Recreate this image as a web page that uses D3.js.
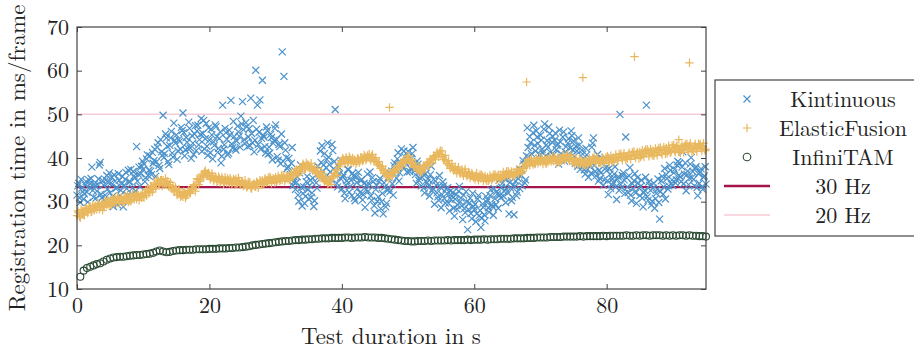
<!DOCTYPE html>
<html><head><meta charset="utf-8">
<script src="https://cdn.jsdelivr.net/npm/d3@7"></script>
<style>html,body{margin:0;padding:0;background:#fff;} svg{display:block;}</style>
</head><body>
<svg id="chart" width="914" height="351"></svg>
<script>
// ---- data ----
const xTicks = [0, 20, 40, 60, 80];
const yTicks = [10, 20, 30, 40, 50, 60, 70];
const seriesNames = ["Kintinuous", "ElasticFusion", "InfiniTAM", "30 Hz", "20 Hz"];
const hz30 = 1000 / 30;
const hz20 = 1000 / 20;

// Kintinuous: even samples every 0.25 s from 0 s (4 per group = 1 s)
const kinStep = 0.25;
const kintinuous = [
31.5,34.2,29.8,33.1, 30.6,33.8,32.2,35.0, 34.1,37.9,31.0,33.6, 32.4,35.2,39.0,30.9,
33.8,31.5,36.0,34.4, 32.0,35.6,28.9,34.7, 33.3,36.4,31.4,34.0, 28.8,35.1,33.0,37.2,
34.6,31.8,36.9,35.4, 42.6,36.3,33.5,38.1, 37.4,34.6,39.8,36.0, 40.5,36.2,38.8,42.0,
39.1,43.5,37.6,41.4, 49.8,41.0,44.6,39.2, 42.9,46.1,40.2,44.0, 45.3,41.6,43.8,47.0,
50.3,40.5,44.7,42.2, 46.8,39.9,43.4,45.5, 41.7,47.5,44.2,49.0, 45.6,42.1,47.9,40.6,
44.1,46.6,39.8,42.9, 47.2,41.3,44.5,38.9, 52.1,43.0,45.8,40.7, 46.4,53.2,42.3,44.9,
41.8,47.3,45.0,49.6, 52.9,44.2,48.1,42.6, 46.7,53.7,43.5,41.4, 60.1,52.1,45.9,42.0,
57.8,44.8,41.2,46.3, 42.5,45.4,39.6,44.0, 47.6,40.3,43.1,38.7, 64.3,58.7,41.8,37.6,
39.9,36.2,42.4,34.5, 32.8,35.7,30.1,38.4, 29.0,33.4,31.2,35.8, 30.6,34.9,32.0,28.9,
37.3,33.1,36.5,41.6, 42.8,38.4,35.6,39.7, 40.2,36.8,43.1,37.5, 51.1,34.2,38.0,35.4,
32.9,36.1,30.7,34.8, 37.3,33.5,31.4,35.9, 30.2,34.4,36.7,32.1, 35.1,31.6,28.7,33.9,
32.4,36.8,30.3,34.6, 27.4,33.7,31.1,35.3, 30.0,27.2,33.4,29.6, 35.6,32.3,37.0,31.5,
38.9,35.4,41.2,36.6, 42.1,37.7,40.3,39.4, 41.5,36.9,39.9,42.4, 37.1,34.2,38.6,35.5,
33.6,36.8,32.0,37.9, 35.2,31.3,38.1,33.0, 29.4,33.8,31.1,36.0, 28.6,34.5,30.7,32.9,
33.2,27.9,30.5,32.1, 26.7,31.6,29.2,33.5, 30.8,25.9,28.4,32.3, 23.6,29.7,27.3,31.9,
28.2,25.4,30.6,26.8, 24.1,29.5,27.0,31.2, 30.4,27.6,32.7,28.9, 33.0,29.3,31.8,34.9,
30.9,34.2,32.4,29.8, 35.6,27.2,33.1,31.0, 27.0,34.7,32.2,36.1, 37.3,33.6,38.6,35.0,
46.9,40.2,43.5,38.7, 47.5,41.6,44.8,39.9, 45.2,42.0,46.6,40.5, 44.0,47.1,41.3,43.6,
40.8,45.7,42.9,38.6, 43.7,40.1,46.0,41.4, 39.5,44.4,42.3,45.1, 43.9,38.8,41.6,44.6,
37.4,41.8,39.9,36.3, 40.7,35.6,38.2,42.5, 44.6,36.9,39.8,34.7, 35.3,38.9,33.8,40.1,
37.1,31.6,36.3,33.9, 34.4,38.0,30.5,35.7, 50.0,33.2,36.6,31.9, 35.5,32.1,37.8,30.2,
33.0,36.4,29.6,34.3, 31.4,34.9,28.8,32.6, 52.1,30.3,33.7,29.2, 33.1,28.5,31.9,35.2,
26.0,34.8,31.7,37.6, 36.2,32.9,38.3,34.1, 33.7,37.4,35.0,39.2, 38.8,34.6,41.4,36.3,
32.5,37.0,35.4,40.1, 36.9,33.6,38.0,31.4, 34.2,37.5,32.8,35.9, 34.0
];
// Kintinuous: odd samples every 0.25 s from 0.125 s
const kintinuousOdd = [
33.6,30.9,35.1,32.3, 31.8,34.6,29.9,33.2, 35.3,32.6,34.0,30.8, 33.9,38.4,31.7,34.8,
30.4,35.0,32.9,36.6, 34.3,31.2,36.1,33.0, 29.3,34.9,32.6,35.8, 33.8,36.7,31.5,34.5,
37.4,33.1,35.9,32.4, 34.7,37.9,36.4,39.3, 38.6,35.5,40.7,37.2, 37.0,41.3,39.4,35.8,
42.5,38.3,44.2,40.6, 40.1,45.5,42.7,38.5, 44.6,41.1,48.0,43.4, 39.7,44.2,42.0,46.3,
45.8,41.9,43.6,48.2, 42.3,45.1,40.8,47.4, 46.2,43.0,45.4,41.5, 48.6,44.4,42.7,46.9,
41.2,45.3,43.7,47.6, 44.9,42.2,46.0,40.4, 42.0,46.8,44.3,41.1, 45.3,43.2,48.4,42.1,
43.9,46.0,42.5,47.8, 46.5,43.3,47.2,44.8, 42.8,45.6,48.6,44.1, 46.6,43.1,53.3,44.5,
45.2,42.6,47.1,40.9, 41.1,44.7,43.4,46.8, 44.2,39.5,42.6,45.5, 39.3,43.5,40.1,38.0,
35.4,38.8,33.7,37.1, 34.4,31.5,36.6,33.3, 31.9,29.6,34.6,32.7, 33.7,31.0,35.4,30.2,
34.3,38.1,35.8,39.0, 36.9,41.0,37.8,43.4, 38.5,35.1,41.7,39.2, 37.0,33.4,36.4,39.5,
35.6,31.9,33.8,37.4, 32.2,34.9,36.5,30.8, 35.6,33.0,31.2,34.8, 30.4,34.2,32.7,36.3,
34.0,31.3,35.5,29.1, 32.8,30.1,34.6,28.4, 31.9,34.3,28.8,32.6, 33.0,36.4,34.1,38.2,
37.1,39.8,34.7,38.6, 38.3,41.6,39.0,36.8, 40.2,37.6,41.0,38.1, 36.2,39.3,34.9,37.0,
35.6,33.1,36.4,34.4, 33.7,36.2,32.5,35.1, 34.7,32.0,30.3,33.3, 31.6,33.6,29.7,31.9,
29.6,32.4,31.3,28.5, 30.6,28.3,32.4,30.0, 29.1,31.5,27.5,29.9, 28.2,30.8,26.1,28.9,
29.4,27.2,31.4,28.0, 26.2,28.7,25.6,29.9, 28.6,31.4,29.3,26.9, 30.7,32.3,28.5,31.5,
33.3,31.3,35.2,32.9, 32.0,34.4,30.2,33.8, 33.5,31.4,35.3,33.0, 36.0,39.4,34.3,40.5,
42.4,44.9,41.0,45.8, 42.9,46.2,43.3,40.8, 44.1,41.2,47.8,43.0, 42.5,45.6,40.2,44.9,
44.1,41.9,43.2,46.4, 41.0,44.8,39.3,42.6, 43.4,40.7,46.2,41.9, 40.3,42.7,38.1,43.0,
38.6,40.9,37.3,42.2, 37.4,39.3,36.5,43.4, 38.3,35.9,40.8,37.2, 36.6,39.7,35.0,37.8,
34.8,37.6,33.0,35.2, 36.3,33.4,35.1,32.6, 33.9,36.0,35.0,44.8, 33.4,35.9,31.5,34.1,
34.8,32.0,35.5,33.1, 33.5,30.8,32.1,35.6, 31.1,34.5,32.6,30.1, 34.2,30.7,32.8,29.8,
32.3,35.8,33.4,30.6, 35.3,33.6,37.2,35.0, 36.6,34.3,38.4,36.0, 35.7,37.9,34.1,38.9,
36.2,33.9,38.6,35.5, 35.1,37.7,33.2,36.4, 36.8,33.4,35.6,38.0
];

// ElasticFusion: even samples every 0.25 s from 0 s
const efStep = 0.25;
const elasticFusion = [
26.8,27.5,26.3,27.9, 27.2,28.4,27.7,28.1, 28.9,27.8,28.5,29.0, 28.2,29.4,28.7,29.6,
29.0,30.1,29.3,29.8, 30.4,29.2,30.0,30.6, 29.7,30.8,30.3,31.0, 30.1,31.2,30.6,29.9,
31.3,30.4,31.0,31.6, 30.6,31.5,31.1,30.9, 31.2,32.0,31.4,32.3, 32.5,33.4,32.8,33.9,
34.0,34.8,34.1,35.0, 34.9,34.2,33.8,34.6, 33.9,33.0,33.6,32.7, 32.6,31.7,32.2,31.4,
31.1,31.9,31.3,32.0, 32.2,33.1,32.8,33.6, 34.0,35.1,34.6,35.7, 36.0,36.8,36.2,35.9,
36.1,35.4,35.9,35.2, 35.5,34.8,35.3,34.9, 35.1,34.5,34.7,35.3, 34.2,35.0,34.4,34.9,
35.2,34.3,34.8,34.1, 34.6,33.8,34.0,33.5, 33.9,33.1,33.7,34.2, 33.4,34.3,34.0,34.6,
34.9,34.2,35.0,34.6, 34.5,35.3,34.9,35.1, 35.6,34.9,35.4,35.0, 35.0,35.8,35.2,35.7,
35.9,35.3,36.1,36.4, 36.8,37.2,36.6,37.5, 37.9,38.3,37.6,38.5, 38.4,37.9,37.5,37.3,
37.1,36.5,36.2,35.8, 35.9,35.2,34.9,34.6, 34.3,34.9,35.4,35.9, 36.4,37.2,38.0,38.6,
39.1,39.6,39.3,39.8, 39.2,39.9,39.4,39.0, 39.5,39.1,39.7,39.4, 40.1,39.6,40.3,39.9,
40.2,39.8,40.4,39.9, 39.6,39.0,38.6,38.2, 37.7,37.1,36.6,36.2, 35.9,36.1,36.5,36.9,
37.2,37.6,38.0,38.3, 38.7,39.1,39.4,39.8, 39.9,39.4,38.9,38.6, 38.2,37.8,37.4,37.1,
37.3,37.7,38.1,38.4, 38.8,39.2,39.5,39.9, 40.3,40.6,40.9,41.2, 40.8,40.2,39.7,39.3,
38.7,38.3,38.0,37.7, 37.4,37.1,37.3,36.9, 36.8,36.5,36.9,36.4, 36.1,36.5,35.9,36.2,
35.6,36.0,35.5,35.7, 35.3,35.8,35.4,35.2, 35.6,35.1,35.5,35.3, 35.4,35.9,35.7,35.5,
36.2,35.8,36.1,36.3, 36.0,36.6,36.4,36.1, 36.8,36.5,36.9,36.7, 37.2,36.9,37.6,38.3,
38.8,39.3,39.1,38.9, 39.4,39.0,39.5,39.2, 39.1,39.6,39.3,39.0, 39.8,39.4,39.9,39.5,
39.3,39.7,39.6,39.2, 40.0,39.7,40.2,39.8, 40.2,39.9,40.1,39.6, 39.4,39.0,39.2,38.8,
38.7,39.1,38.9,38.6, 39.3,39.0,39.4,39.1, 39.6,39.3,39.8,39.4, 39.2,39.6,39.3,39.5,
39.8,39.5,39.9,39.7, 40.1,39.8,40.2,40.0, 40.4,40.1,40.5,40.2, 40.3,40.7,40.5,40.6,
40.8,40.5,40.9,40.7, 41.4,40.6,41.0,41.5, 41.0,41.6,40.9,41.4, 41.7,41.1,41.3,41.9,
41.7,41.2,41.9,41.8, 42.3,41.6,42.1,41.5, 42.4,41.7,42.6,42.0, 41.6,42.5,42.1,42.7,
42.6,41.9,42.8,42.3, 42.0,42.7,42.1,42.5, 42.8,42.2,42.6,42.0, 42.0
];
// ElasticFusion: odd samples every 0.25 s from 0.125 s
const elasticFusionOdd = [
27.9,26.6,28.2,27.1, 26.9,28.6,27.4,28.9, 27.6,29.2,28.0,28.8, 29.7,28.3,29.1,28.0,
28.7,29.9,30.4,29.0, 29.3,30.9,29.6,30.3, 31.2,29.6,30.7,29.9, 29.6,30.9,31.5,30.2,
30.1,31.8,30.5,31.2, 31.9,30.3,31.4,31.8, 30.9,32.5,32.9,32.0, 33.6,32.2,34.3,33.2,
35.2,33.7,34.9,33.6, 33.9,35.3,34.7,33.4, 34.4,32.9,32.4,33.3, 31.5,32.9,31.1,32.0,
32.3,30.8,31.6,32.6, 31.9,32.9,33.9,32.4, 35.3,33.9,35.0,36.3, 35.6,37.1,36.5,36.6,
35.1,36.5,34.8,35.7, 34.5,35.8,34.4,35.6, 34.1,35.6,34.3,34.9, 35.4,33.9,35.2,34.0,
34.0,35.5,33.8,34.6, 33.6,34.9,33.3,34.5, 34.5,33.0,34.0,33.4, 34.6,33.2,34.9,33.9,
33.9,35.3,34.4,35.5, 35.7,34.2,35.4,34.4, 34.6,35.9,34.8,36.0, 36.1,34.7,35.9,35.1,
35.0,36.6,35.7,36.9, 37.4,36.1,37.9,36.9, 38.7,37.3,38.9,37.9, 37.7,38.8,37.0,38.0,
36.6,37.6,35.6,36.9, 36.4,34.6,35.6,34.1, 34.9,33.9,35.8,36.5, 37.3,36.0,38.7,39.4,
40.0,38.7,40.2,38.9, 40.3,38.8,40.0,39.6, 38.6,40.0,38.9,40.2, 39.3,40.7,39.5,40.6,
40.9,39.4,40.8,39.3, 40.1,38.4,39.2,37.6, 38.1,36.5,37.3,35.6, 35.2,36.6,35.8,37.4,
36.6,38.2,37.5,39.0, 38.0,39.6,38.9,40.4, 40.5,38.8,39.6,37.8, 38.8,37.2,38.0,36.6,
36.8,38.3,37.6,39.0, 38.2,39.8,38.9,40.5, 39.6,41.3,40.3,41.7, 41.6,39.6,40.6,38.7,
39.4,37.6,38.7,37.1, 38.0,36.5,37.9,36.4, 37.4,35.9,37.5,35.8, 36.8,35.4,36.6,35.5,
35.1,36.5,34.9,36.3, 36.1,34.7,35.9,34.8, 34.7,36.0,34.9,36.1, 36.3,35.0,36.2,35.1,
35.3,36.8,35.6,36.9, 37.0,35.7,36.9,35.8, 36.1,37.4,36.3,37.5, 36.5,37.8,38.8,38.0,
39.7,38.3,39.9,38.5, 38.6,39.9,38.8,40.1, 40.0,38.6,39.9,38.7, 39.0,40.3,39.2,40.4,
40.2,38.8,40.1,38.9, 39.3,40.7,39.4,40.6, 40.8,39.3,40.6,39.2, 38.6,39.9,38.4,39.7,
39.6,38.2,39.5,38.3, 38.5,39.9,38.7,40.0, 40.3,38.8,40.1,38.9, 38.8,40.1,38.7,40.2,
40.4,38.9,40.5,39.0, 39.3,40.8,39.4,40.9, 41.0,39.5,41.1,39.6, 39.8,41.2,39.7,41.3,
41.5,40.0,41.4,39.9, 40.2,41.8,40.3,41.9, 42.0,40.4,42.1,40.6, 40.5,42.2,40.6,42.3,
42.4,40.8,42.5,40.9, 41.1,42.8,41.2,42.9, 43.0,41.3,42.9,41.4, 41.2,42.9,41.3,43.1,
43.3,41.6,43.4,41.5, 41.4,43.2,41.5,43.3, 43.2,41.6,43.4,41.7
];
// ElasticFusion isolated samples [time s, ms]
const efOutliers = [[47.2, 51.6], [67.9, 57.4], [76.4, 58.4], [84.2, 63.2], [90.9, 44.2], [92.5, 61.8]];

// InfiniTAM: samples every 0.5 s from 0.5 s
const itStart = 0.5, itStep = 0.5;
const infiniTAM = [
12.8,14.2,14.8,15.1,15.4,15.7,15.9,16.3,16.7,17.0,
17.2,17.3,17.4,17.4,17.5,17.6,17.7,17.8,17.8,17.9,
18.0,18.1,18.3,18.6,18.8,18.6,18.4,18.5,18.7,18.8,
18.9,18.9,19.0,19.0,19.0,19.1,19.1,19.1,19.1,19.2,
19.2,19.2,19.3,19.3,19.3,19.4,19.4,19.5,19.5,19.6,
19.7,19.8,20.0,20.1,20.2,20.3,20.4,20.5,20.6,20.7,
20.8,20.9,21.0,21.0,21.1,21.2,21.2,21.3,21.3,21.4,
21.4,21.5,21.5,21.6,21.6,21.6,21.7,21.7,21.7,21.7,
21.8,21.8,21.7,21.8,21.8,21.8,21.9,21.8,21.8,21.8,
21.7,21.7,21.6,21.5,21.4,21.3,21.2,21.1,21.0,21.0,
20.9,20.9,21.0,21.0,21.0,21.1,21.0,21.1,21.1,21.1,
21.1,21.2,21.1,21.2,21.2,21.2,21.2,21.3,21.2,21.3,
21.3,21.3,21.4,21.3,21.4,21.4,21.4,21.5,21.5,21.5,
21.5,21.6,21.6,21.6,21.6,21.7,21.7,21.7,21.8,21.8,
21.8,21.8,21.9,21.9,21.9,21.9,22.0,22.0,22.0,22.0,
22.0,22.1,22.0,22.1,22.1,22.1,22.1,22.1,22.2,22.1,
22.2,22.2,22.2,22.2,22.2,22.3,22.2,22.2,22.3,22.2,
22.3,22.3,22.2,22.3,22.3,22.3,22.2,22.3,22.2,22.3,
22.2,22.3,22.3,22.2,22.3,22.2,22.2,22.1,22.1,22.0
];

// ---- drawing ----
const svg = d3.select("#chart");
const M = {left: 77, right: 706, top: 27, bottom: 289};
const x = d3.scaleLinear().domain([0, 95]).range([M.left, M.right]);
const y = d3.scaleLinear().domain([10, 70]).range([M.bottom, M.top]);
const FONT = "'Latin Modern Roman','CMU Serif','Liberation Serif','DejaVu Serif',serif";
const FS = 22, FSL = 23;
const colK = "#4b92cb", colE = "#e9b85e", colI = "#2b4a33", col30 = "#a3164b", col20 = "#f6cbd5", axisCol = "#444";

const plot = svg.append("g");
plot.append("line").attr("x1", x(0)).attr("x2", x(95)).attr("y1", y(hz20)).attr("y2", y(hz20))
  .attr("stroke", col20).attr("stroke-width", 1.5);
plot.append("line").attr("x1", x(0)).attr("x2", x(95)).attr("y1", y(hz30)).attr("y2", y(hz30))
  .attr("stroke", col30).attr("stroke-width", 2.4);

function crossPath(s) { return `M${-s},${-s}L${s},${s}M${-s},${s}L${s},${-s}`; }
function plusPath(s) { return `M${-s},0L${s},0M0,${-s}L0,${s}`; }

const kinData = kintinuous.map((v, i) => [i * kinStep, v])
  .concat(kintinuousOdd.map((v, i) => [kinStep / 2 + i * kinStep, v]));
plot.append("g").selectAll("path").data(kinData).join("path")
  .attr("transform", d => `translate(${x(d[0])},${y(d[1])})`)
  .attr("d", crossPath(3.5)).attr("stroke", colK).attr("stroke-width", 1.2).attr("fill", "none");

const efData = elasticFusion.map((v, i) => [i * efStep, v])
  .concat(elasticFusionOdd.map((v, i) => [efStep / 2 + i * efStep, v]))
  .concat(efOutliers);
plot.append("g").selectAll("path").data(efData).join("path")
  .attr("transform", d => `translate(${x(d[0])},${y(d[1])})`)
  .attr("d", plusPath(4.2)).attr("stroke", colE).attr("stroke-width", 1.2).attr("fill", "none");

const itData = infiniTAM.map((v, i) => [itStart + i * itStep, v]);
plot.append("g").selectAll("circle").data(itData).join("circle")
  .attr("cx", d => x(d[0])).attr("cy", d => y(d[1])).attr("r", 3.5)
  .attr("fill", "none").attr("stroke", colI).attr("stroke-width", 1.1);

// axes with inward ticks on all sides
const tl = 5;
const ax = svg.append("g");
ax.append("g").attr("transform", `translate(0,${M.bottom})`)
  .call(d3.axisBottom(x).tickValues(xTicks).tickSizeInner(-tl).tickSizeOuter(0).tickPadding(8))
  .call(g => { g.select(".domain").remove(); g.selectAll("line").attr("stroke", axisCol);
    g.selectAll("text").attr("font-family", FONT).attr("font-size", FS).attr("fill", "#222"); });
ax.append("g").attr("transform", `translate(0,${M.top})`)
  .call(d3.axisTop(x).tickValues(xTicks).tickSizeInner(-tl).tickSizeOuter(0).tickFormat(""))
  .call(g => { g.select(".domain").remove(); g.selectAll("line").attr("stroke", axisCol); });
ax.append("g").attr("transform", `translate(${M.left},0)`)
  .call(d3.axisLeft(y).tickValues(yTicks).tickSizeInner(-tl).tickSizeOuter(0).tickPadding(8))
  .call(g => { g.select(".domain").remove(); g.selectAll("line").attr("stroke", axisCol);
    g.selectAll("text").attr("font-family", FONT).attr("font-size", FS).attr("fill", "#222"); });
ax.append("g").attr("transform", `translate(${M.right},0)`)
  .call(d3.axisRight(y).tickValues(yTicks).tickSizeInner(-tl).tickSizeOuter(0).tickFormat(""))
  .call(g => { g.select(".domain").remove(); g.selectAll("line").attr("stroke", axisCol); });
ax.append("rect").attr("x", M.left).attr("y", M.top).attr("width", M.right - M.left).attr("height", M.bottom - M.top)
  .attr("fill", "none").attr("stroke", axisCol).attr("stroke-width", 1.2);

svg.append("text").attr("x", 391).attr("y", 344).attr("text-anchor", "middle")
  .attr("font-family", FONT).attr("font-size", FSL).attr("fill", "#222").text("Test duration in s");
svg.append("text").attr("transform", `translate(25,${(M.top + M.bottom) / 2}) rotate(-90)`).attr("text-anchor", "middle")
  .attr("font-family", FONT).attr("font-size", FSL).attr("fill", "#222").text("Registration time in ms/frame");

// legend
const lg = svg.append("g");
lg.append("rect").attr("x", 715).attr("y", 80).attr("width", 210).attr("height", 156)
  .attr("fill", "#fff").attr("stroke", axisCol).attr("stroke-width", 1.2);
const rowY = [99, 128, 157, 186, 215];
const symX = 747, textX = 843;
seriesNames.forEach((name, i) => {
  const yy = rowY[i];
  if (i === 0) lg.append("path").attr("transform", `translate(${symX},${yy})`).attr("d", crossPath(3.5)).attr("stroke", colK).attr("stroke-width", 1.2).attr("fill", "none");
  if (i === 1) lg.append("path").attr("transform", `translate(${symX},${yy})`).attr("d", plusPath(4.2)).attr("stroke", colE).attr("stroke-width", 1.2).attr("fill", "none");
  if (i === 2) lg.append("circle").attr("cx", symX).attr("cy", yy).attr("r", 3.8).attr("fill", "none").attr("stroke", colI).attr("stroke-width", 1.1);
  if (i === 3) lg.append("line").attr("x1", 724).attr("x2", 770).attr("y1", yy).attr("y2", yy).attr("stroke", col30).attr("stroke-width", 2.4);
  if (i === 4) lg.append("line").attr("x1", 724).attr("x2", 770).attr("y1", yy).attr("y2", yy).attr("stroke", col20).attr("stroke-width", 1.5);
  lg.append("text").attr("x", textX).attr("y", yy).attr("dy", "0.35em").attr("text-anchor", "middle")
    .attr("font-family", FONT).attr("font-size", FS).attr("fill", "#222").text(name);
});
</script>
</body></html>
